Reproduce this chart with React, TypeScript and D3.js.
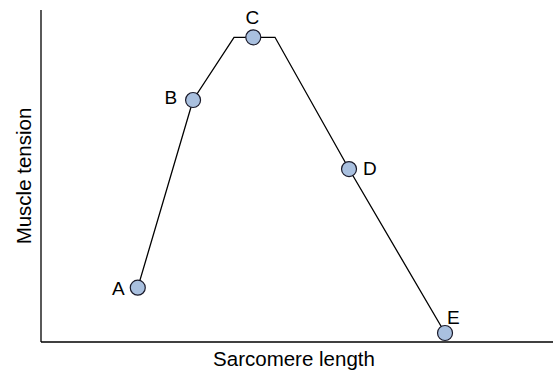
import React from "react";
import * as d3 from "d3";

const pointLabels = ["A", "B", "C", "D", "E"];
const pointX = [1.89, 2.97, 4.146, 6.016, 7.891];
const pointY = [16.36, 72.89, 91.78, 52.1, 2.71];
// full curve including the plateau corners
const curveX = [1.89, 2.97, 3.77, 4.146, 4.57, 6.016, 7.891];
const curveY = [16.36, 72.89, 91.78, 91.78, 91.78, 52.1, 2.71];
const labelPos = ["left", "left", "top", "right", "topright"];

export default function App() {
  const W = 553, H = 372;
  const x = d3.scaleLinear().domain([0, 10]).range([41, 553]);
  const y = d3.scaleLinear().domain([0, 100]).range([342, 10]);
  const line = d3.line<number>().x((_, i) => x(curveX[i])).y((d) => y(d));
  const font = "Liberation Sans, Arial, sans-serif";
  return (
    <svg width={W} height={H} style={{ position: "absolute", left: 0, top: 0 }}>
      <rect width={W} height={H} fill="white" />
      <line x1={x(0)} x2={x(10)} y1={y(0)} y2={y(0)} stroke="#000" strokeWidth={1.3} />
      <line x1={x(0)} x2={x(0)} y1={y(0)} y2={y(100)} stroke="#000" strokeWidth={1.3} />
      <path d={line(curveY) || ""} fill="none" stroke="#000" strokeWidth={1.3} />
      {pointX.map((px, i) => {
        const cx = x(px), cy = y(pointY[i]);
        const pos = labelPos[i];
        let tx = cx, ty = cy, anchor: any = "middle";
        if (pos === "left") { tx = cx - 13; ty = cy + 7; anchor = "end"; }
        else if (pos === "top") { tx = cx - 1; ty = cy - 13; }
        else if (pos === "right") { tx = cx + 14; ty = cy + 6; anchor = "start"; }
        else if (pos === "topright") { tx = cx + 2; ty = cy - 9; anchor = "start"; }
        if (i === 1) { ty = cy + 4; tx = cx - 16; }
        return (
          <g key={i}>
            <circle cx={cx} cy={cy} r={7.5} fill="#a9c0df" stroke="#1a1a2a" strokeWidth={1.2} />
            <text x={tx} y={ty} textAnchor={anchor} fontFamily={font} fontSize={19} fill="#000">{pointLabels[i]}</text>
          </g>
        );
      })}
      <text x={294} y={366} textAnchor="middle" fontFamily={font} fontSize={20.5} fill="#000">Sarcomere length</text>
      <text transform={`translate(31,176) rotate(-90)`} textAnchor="middle" fontFamily={font} fontSize={20.5} fill="#000">Muscle tension</text>
    </svg>
  );
}
